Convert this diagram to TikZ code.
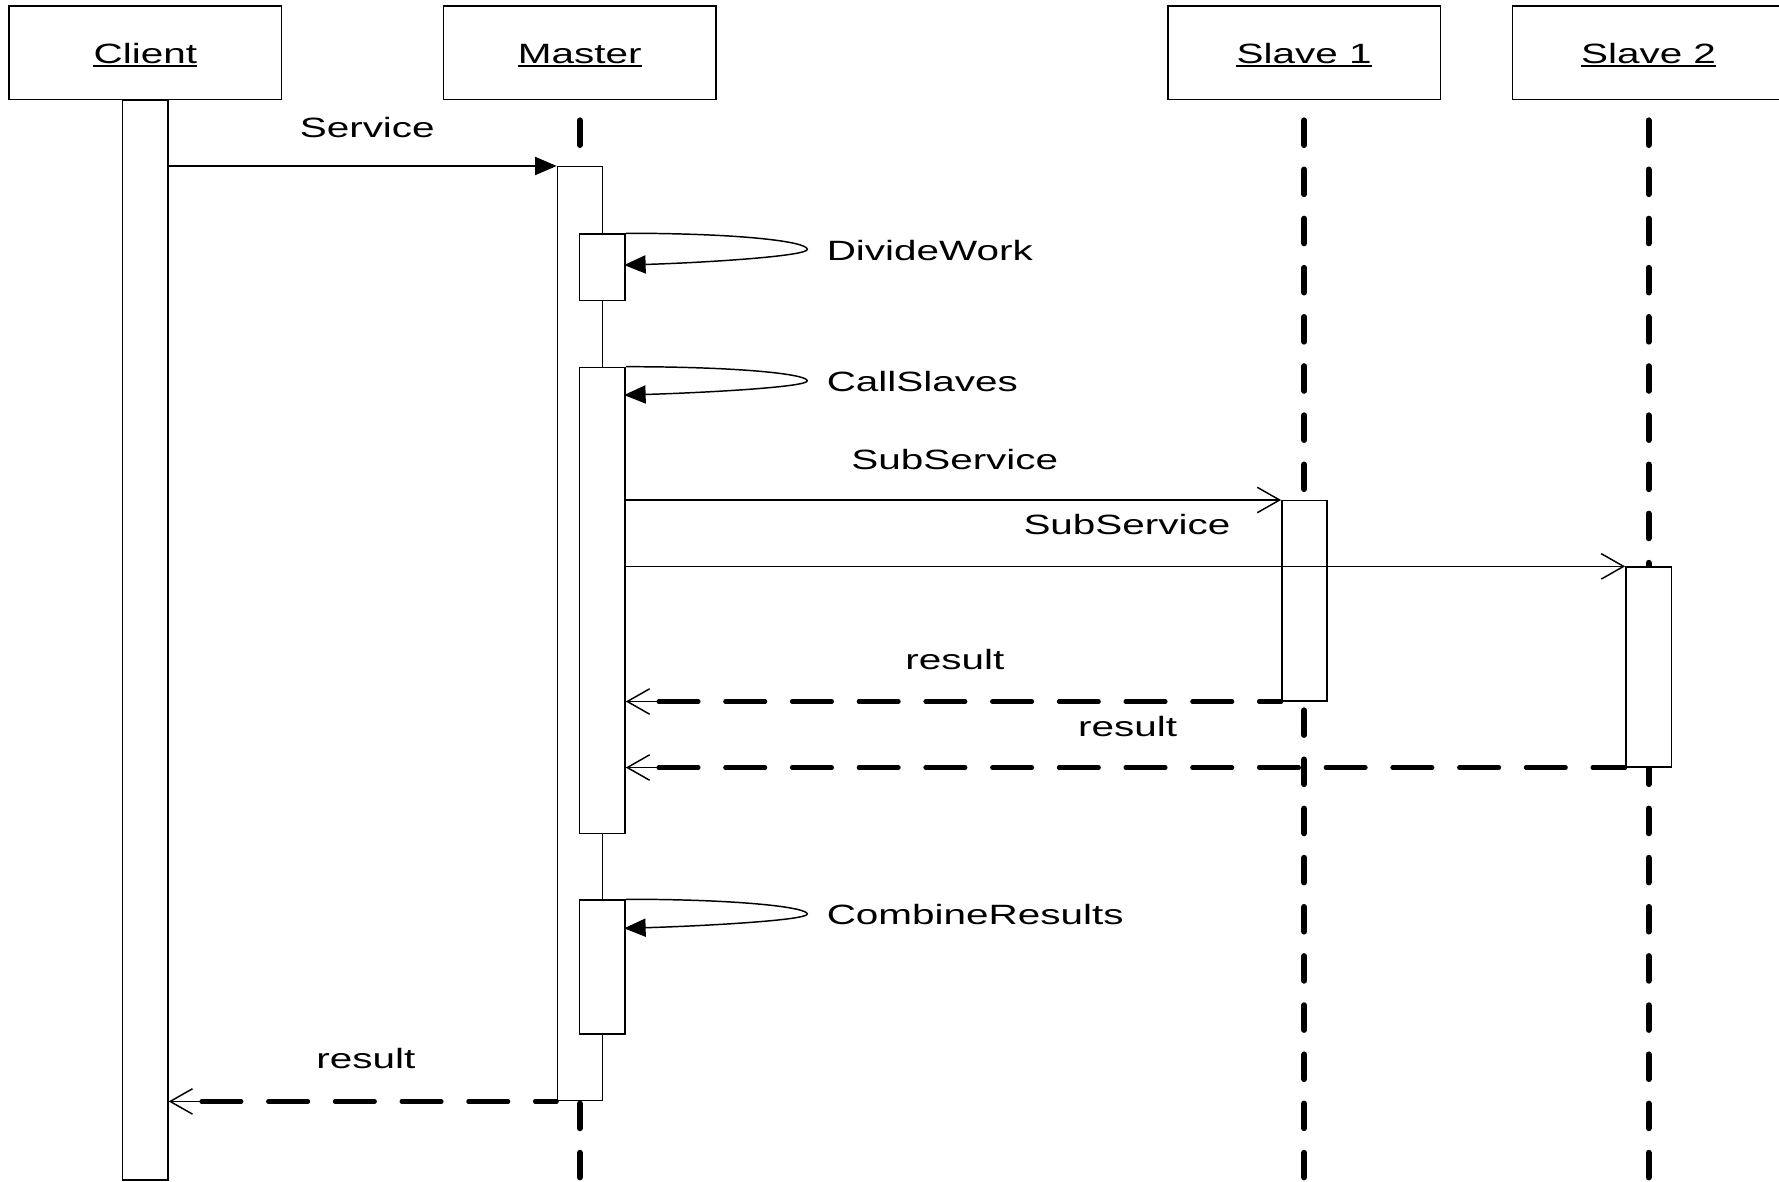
\documentclass[tikz,border=0pt]{standalone}
\usepackage{fontspec}
\setmainfont{Liberation Sans}[FakeStretch=1.45]
\usetikzlibrary{arrows.meta,calc}
\tikzset{
  head/.style={draw, line width=1.3pt, minimum width=240.2pt, minimum height=82.2pt, inner sep=0pt, fill=white},
  htext/.style={anchor=base, inner sep=0pt},
  ul/.style={line width=1.8pt},
  bar/.style={draw, line width=1.3pt, fill=white, minimum width=40pt, inner sep=0pt, anchor=north},
  lifeline/.style={line width=5.3pt, line cap=round, dash pattern=on 21.7pt off 21.63pt},
  msg/.style={line width=1.3pt},
  call/.style={msg, -{Triangle[length=19pt, width=16pt]}},
  async/.style={msg, -{Straight Barb[length=19.7pt, width=22.4pt]}},
  ret/.style={line width=3.8pt, line cap=round, dash pattern=on 35pt off 23.8pt},
  lbl/.style={anchor=base, inner sep=0pt},
  slbl/.style={anchor=base west, inner sep=0pt},
}
\begin{document}
\begin{tikzpicture}[x=1pt, y=-1pt, font=\fontsize{24.6pt}{30pt}\selectfont]
\useasboundingbox (0,0) rectangle (1568,1040.93);
\coordinate (bot) at (0,1050);

% heads
\node[head] (ch) at (128.15,46.4) {};
\node[head] (mh) at (511,46.4) {};
\node[head] (s1h) at (1149.5,46.4) {};
\node[head] (s2h) at (1453,46.4) {};
\node[htext] (ct) at (128.15,55.8) {Client};
\node[htext] (mt) at (511,55.8) {Master};
\node[htext] (s1t) at (1149.5,55.8) {Slave 1};
\node[htext] (s2t) at (1453,55.8) {Slave 2};
\foreach \t in {ct,mt,s1t,s2t}
  \draw[ul] ([yshift=-2.3pt]\t.base west) -- ([yshift=-2.3pt]\t.base east);

% lifelines
\draw[lifeline] ([yshift=-17.95pt]mh.south) -- (mh.south |- bot);
\draw[lifeline] ([yshift=-17.95pt]s1h.south) -- (s1h.south |- bot);
\draw[lifeline] ([yshift=-17.95pt]s2h.south) -- (s2h.south |- bot);

% activation bars
\node[bar, minimum height=951.9pt] (cb) at (128,87.5) {};
\node[bar, minimum height=823.2pt] (mb) at (511.25,146.3) {};
\node[bar, minimum height=58.8pt] (dw) at (530.9,205.6) {};
\node[bar, minimum height=410.8pt] (cs) at (530.9,323.2) {};
\node[bar, minimum height=118.1pt] (cr) at (530.9,792.6) {};
\node[bar, minimum height=176.3pt] (s1) at (1149.8,440.7) {};
\node[bar, minimum height=176pt] (s2) at (1453,499.2) {};

% Service
\draw[call] (cb.east |- mb.north) -- (mb.north west);
\node[lbl] (l1) at (323.7,121) {Service};

% self calls
\coordinate (dwt) at ($(dw.north east)+(160,14.2)$);
\coordinate (dwe) at ($(dw.north east)+(-1.5,28)$);
\draw[call] (dw.north east) .. controls ($(dw.north east)+(100,0)$) and ($(dwt)+(0,-7)$) .. (dwt)
  .. controls ($(dwt)+(0,6)$) and ($(dwe)+(70,-2)$) .. (dwe);
\node[slbl] (l2) at (728.5,229.2) {DivideWork};

\coordinate (cst) at ($(cs.north east)+(160,12.5)$);
\coordinate (cse) at ($(cs.north east)+(-1.5,25)$);
\draw[call] (cs.north east) .. controls ($(cs.north east)+(100,0)$) and ($(cst)+(0,-6)$) .. (cst)
  .. controls ($(cst)+(0,5.5)$) and ($(cse)+(70,-2)$) .. (cse);
\node[slbl] (l3) at (728.5,345.2) {CallSlaves};

\coordinate (crt) at ($(cr.north east)+(160,13)$);
\coordinate (cre) at ($(cr.north east)+(-1.5,25.6)$);
\draw[call] (cr.north east) .. controls ($(cr.north east)+(100,0)$) and ($(crt)+(0,-6)$) .. (crt)
  .. controls ($(crt)+(0,5.5)$) and ($(cre)+(70,-2)$) .. (cre);
\node[slbl] (l4) at (728.5,814.4) {CombineResults};

% SubService calls
\draw[async] (cs.east |- s1.north) -- (s1.north west);
\node[lbl] (l5) at (841.5,413.6) {SubService};
\draw[async] (cs.east |- s2.north) -- (s2.north west);
\node[lbl] (l6) at (993.3,471.5) {SubService};

% returns
\coordinate (r1t) at (cs.east |- s1.south);
\coordinate (r1s) at ($(r1t)+(29,0)$);
\draw[ret] (r1s) -- (s1.south west);
\draw[async] (r1s) -- (r1t);
\node[lbl] (l7) at (841.6,590.5) {result};

\coordinate (r2t) at (cs.east |- s2.south);
\coordinate (r2s) at ($(r2t)+(29,0)$);
\draw[ret] (r2s) -- (s2.south west);
\draw[async] (r2s) -- (r2t);
\node[lbl] (l8) at (993.9,648.7) {result};

\coordinate (r3t) at (cb.east |- mb.south);
\coordinate (r3s) at ($(r3t)+(29,0)$);
\draw[ret] (r3s) -- (mb.south west);
\draw[async] (r3s) -- (r3t);
\node[lbl] (l9) at (322.4,941.6) {result};
\end{tikzpicture}
\end{document}
